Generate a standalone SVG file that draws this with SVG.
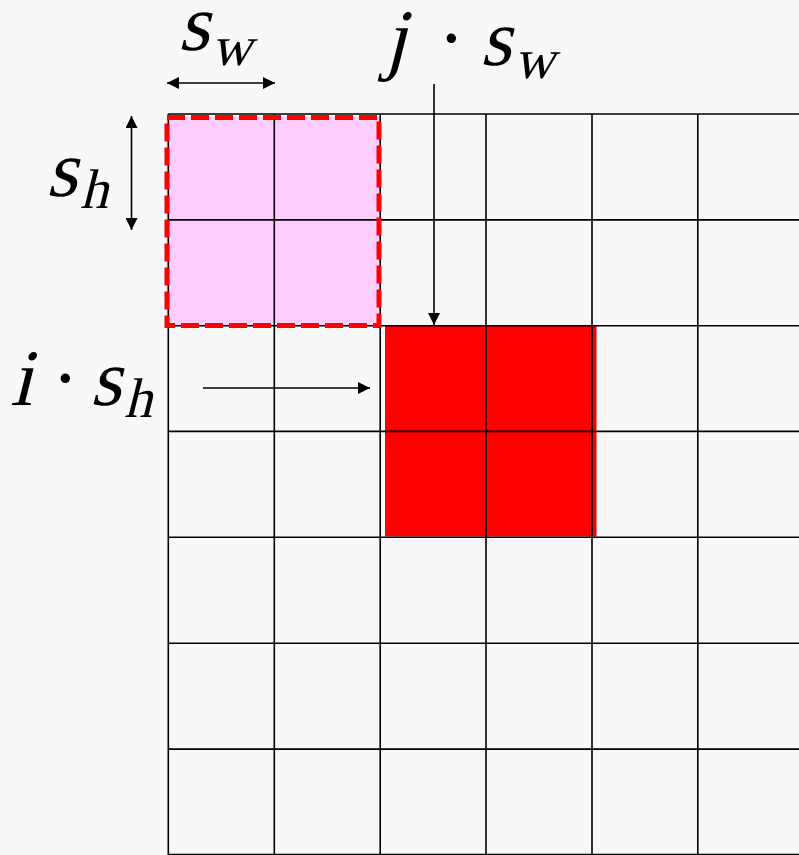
<svg xmlns="http://www.w3.org/2000/svg" width="799" height="855" viewBox="0 0 799 855">
<defs>
<marker id="ah" viewBox="0 0 10 10" refX="10" refY="5" markerWidth="15" markerHeight="12" markerUnits="userSpaceOnUse" orient="auto-start-reverse">
<path d="M0,0 L10,5 L0,10 Z" fill="#000"/>
</marker>
</defs>
<style>
.grid{stroke:#000;stroke-width:1.6;fill:none}
.arr{stroke:#000;stroke-width:1.6;fill:none}
.m{font-family:"Liberation Serif","Times New Roman",serif;font-style:normal;fill:#000}
.big{font-size:80px}
.sub{font-size:56px}
</style>
<rect width="799" height="855" fill="#f8f8fa"/>
<g id="shaded">
<rect x="167" y="117.5" width="212" height="208" fill="#ffccff"/>
</g>
<g id="target">
<rect x="385" y="326" width="211.5" height="210.5" fill="#ff0000"/>
</g>
<g id="grid" class="grid">
<line x1="168.3" y1="114" x2="799" y2="114"/>
<line x1="168.3" y1="219.9" x2="799" y2="219.9"/>
<line x1="168.3" y1="325.8" x2="799" y2="325.8"/>
<line x1="168.3" y1="431.4" x2="799" y2="431.4"/>
<line x1="168.3" y1="537.3" x2="799" y2="537.3"/>
<line x1="168.3" y1="643.2" x2="799" y2="643.2"/>
<line x1="168.3" y1="749.1" x2="799" y2="749.1"/>
<line x1="168.3" y1="854.5" x2="799" y2="854.5"/>
<line x1="168.3" y1="114" x2="168.3" y2="855"/>
<line x1="274.3" y1="114" x2="274.3" y2="855"/>
<line x1="380.2" y1="114" x2="380.2" y2="855"/>
<line x1="486" y1="114" x2="486" y2="855"/>
<line x1="592" y1="114" x2="592" y2="855"/>
<line x1="697.8" y1="114" x2="697.8" y2="855"/>
</g>
<g id="window-outline">
<rect x="167" y="117.5" width="212" height="208" fill="none" stroke="#ff0000" stroke-width="5" stroke-dasharray="18 6"/>
</g>
<g id="connectors">
<line class="arr" x1="167" y1="83" x2="275" y2="83" marker-start="url(#ah)" marker-end="url(#ah)"/>
<line class="arr" x1="131.5" y1="116" x2="131.5" y2="230" marker-start="url(#ah)" marker-end="url(#ah)"/>
<line class="arr" x1="434" y1="84" x2="434" y2="325" marker-end="url(#ah)"/>
<line class="arr" x1="203" y1="388" x2="370" y2="388" marker-end="url(#ah)"/>
</g>
<g id="label-sw" transform="translate(178,50) skewX(-14)">
<text class="m" x="0" y="0"><tspan class="big">s</tspan><tspan class="sub" dx="6" dy="15">w</tspan></text>
</g>
<g id="label-jsw" transform="translate(384,65)">
<text class="m" x="0" y="0" transform="skewX(-14)"><tspan class="big">j</tspan></text>
<text class="m big" x="54" y="0">·</text>
<text class="m" x="96" y="0" transform="skewX(-14)"><tspan class="big">s</tspan><tspan class="sub" dx="6" dy="13">w</tspan></text>
</g>
<g id="label-sh" transform="translate(46,196) skewX(-14)">
<text class="m" x="0" y="0"><tspan class="big">s</tspan><tspan class="sub" dx="6" dy="12">h</tspan></text>
</g>
<g id="label-ish" transform="translate(10,405)">
<text class="m" x="0" y="0" transform="skewX(-14)"><tspan class="big">i</tspan></text>
<text class="m big" x="42" y="0">·</text>
<text class="m" x="80" y="0" transform="skewX(-14)"><tspan class="big">s</tspan><tspan class="sub" dx="6" dy="12">h</tspan></text>
</g>
</svg>
